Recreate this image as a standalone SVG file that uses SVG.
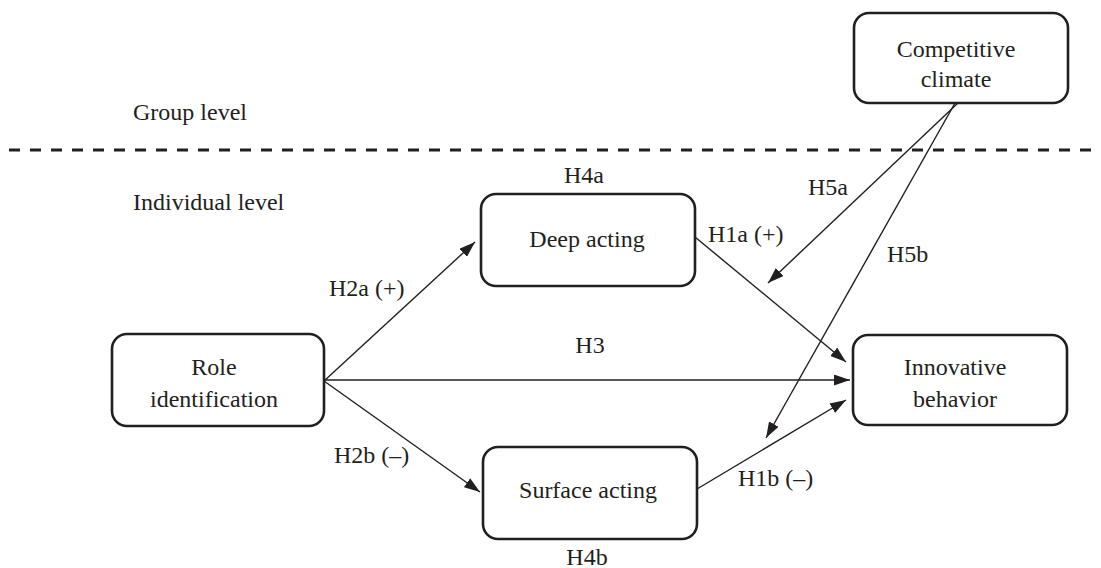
<svg xmlns="http://www.w3.org/2000/svg" width="1101" height="568" viewBox="0 0 1101 568">
<style>
.box{fill:#fff;stroke:#231f20;stroke-width:2.6}
text{font-family:'Liberation Serif','Times New Roman',serif;font-size:24px;fill:#231f20}
.c{text-anchor:middle}
.ln{stroke:#231f20;stroke-width:1.4;fill:none;marker-end:url(#ah)}
</style>
<defs>
<marker id="ah" markerUnits="userSpaceOnUse" viewBox="0 0 16 11" markerWidth="16" markerHeight="11" refX="16" refY="5.5" orient="auto">
<path d="M0,0 L16,5.5 L0,11 z" fill="#231f20"/>
</marker>
</defs>
<rect width="1101" height="568" fill="#fff"/>
<line x1="9" y1="150" x2="1101" y2="150" stroke="#231f20" stroke-width="3" stroke-dasharray="11 10"/>
<text x="133" y="120">Group level</text>
<text x="133" y="210">Individual level</text>
<g id="connectors">
<line class="ln" x1="324" y1="381" x2="475" y2="242"/>
<line class="ln" x1="324" y1="381" x2="480" y2="492"/>
<line class="ln" x1="324" y1="380" x2="850" y2="380"/>
<line class="ln" x1="695" y1="237" x2="846" y2="362"/>
<line class="ln" x1="697" y1="489" x2="846" y2="400"/>
<line class="ln" x1="958" y1="103" x2="768" y2="283"/>
<line class="ln" x1="955" y1="103" x2="766" y2="438"/>
<text x="329" y="296">H2a (+)</text>
<text x="334" y="463">H2b (–)</text>
<text class="c" x="590" y="353">H3</text>
<text x="708" y="242">H1a (+)</text>
<text x="738" y="486">H1b (–)</text>
<text x="808" y="195">H5a</text>
<text x="887" y="262">H5b</text>
<text class="c" x="584" y="183">H4a</text>
<text class="c" x="587" y="565">H4b</text>
</g>
<g id="competitive-climate">
<rect class="box" x="854" y="13" width="214" height="90" rx="15"/>
<text class="c" x="956" y="57">Competitive</text>
<text class="c" x="956" y="87">climate</text>
</g>
<g id="role-identification">
<rect class="box" x="112" y="334" width="212" height="92" rx="15"/>
<text class="c" x="214" y="375">Role</text>
<text class="c" x="214" y="407">identification</text>
</g>
<g id="deep-acting">
<rect class="box" x="481" y="194" width="214" height="92" rx="15"/>
<text class="c" x="587" y="247">Deep acting</text>
</g>
<g id="surface-acting">
<rect class="box" x="483" y="447" width="214" height="92" rx="15"/>
<text class="c" x="588" y="498">Surface acting</text>
</g>
<g id="innovative-behavior">
<rect class="box" x="853" y="335" width="214" height="90" rx="15"/>
<text class="c" x="955" y="375">Innovative</text>
<text class="c" x="955" y="407">behavior</text>
</g>
</svg>
